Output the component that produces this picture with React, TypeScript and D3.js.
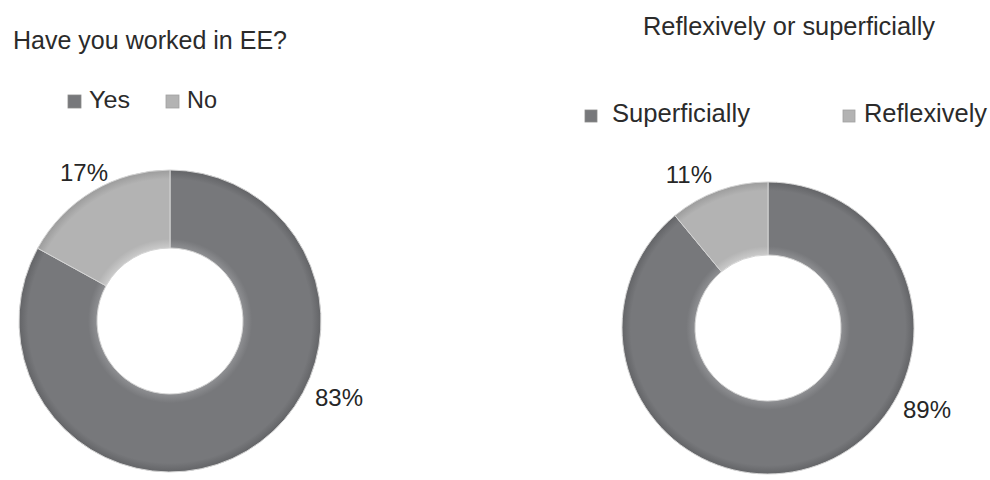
import React from "react";
import * as d3 from "d3";

const leftTitle = "Have you worked in EE?";
const leftCategories = ["Yes", "No"];
const leftValues = [83, 17];

const rightTitle = "Reflexively or superficially";
const rightCategories = ["Superficially", "Reflexively"];
const rightValues = [89, 11];

const W = 990;
const H = 480;
const FONT = "'Liberation Sans', Arial, Helvetica, sans-serif";

const baseColors = ["#77787b", "#b3b3b3"];
const highColors = ["#8e8f92", "#cacaca"];
const edgeColors = ["#636467", "#9c9c9c"];

type DonutProps = {
  id: string;
  cx: number;
  cy: number;
  outer: number;
  inner: number;
  values: number[];
  labelPos: { dx: number; dy: number; anchor: string }[];
  labelSize: number;
};

function Donut({ id, cx, cy, outer, inner, values, labelPos, labelSize }: DonutProps) {
  const pie = d3.pie<number>().sort(null).value((d) => d);
  const arcs = pie(values);
  const arc = d3.arc<d3.PieArcDatum<number>>().innerRadius(inner).outerRadius(outer);
  const total = d3.sum(values);
  const fmt = (v: number) => `${Math.round((v / total) * 100)}%`;
  const f0 = inner / outer;
  return (
    <g>
      <defs>
        {values.map((_, i) => (
          <radialGradient
            key={i}
            id={`${id}-g${i}`}
            gradientUnits="userSpaceOnUse"
            cx={0}
            cy={0}
            r={outer}
          >
            <stop offset={f0} stopColor={highColors[i]} />
            <stop offset={f0 + 0.06} stopColor={baseColors[i]} />
            <stop offset={0.94} stopColor={baseColors[i]} />
            <stop offset={1} stopColor={edgeColors[i]} />
          </radialGradient>
        ))}
      </defs>
      <g transform={`translate(${cx},${cy})`}>
        {arcs.map((a, i) => (
          <path
            key={i}
            d={arc(a) || ""}
            fill={`url(#${id}-g${i})`}
            stroke="#d4d4d4"
            strokeWidth={1}
          />
        ))}
      </g>
      {arcs.map((a, i) => (
        <text
          key={i}
          x={cx + labelPos[i].dx}
          y={cy + labelPos[i].dy}
          textAnchor={labelPos[i].anchor as any}
          fontFamily={FONT}
          fontSize={labelSize}
          fill="#262626"
        >
          {fmt(a.data)}
        </text>
      ))}
    </g>
  );
}

export default function App() {
  return (
    <svg
      width={W}
      height={H}
      viewBox={`0 0 ${W} ${H}`}
      style={{ position: "absolute", left: 0, top: 0, background: "#fff" }}
    >
      <rect width={W} height={H} fill="#ffffff" />

      {/* Left chart */}
      <text x={13} y={49} fontFamily={FONT} fontSize={25} fill="#2b2b2b" textLength={274} lengthAdjust="spacingAndGlyphs">
        {leftTitle}
      </text>
      <rect x={68} y={95} width={13} height={13} fill={baseColors[0]} stroke="#8a8a8a" strokeWidth={0.8} />
      <text x={89} y={108} fontFamily={FONT} fontSize={24} fill="#2b2b2b" textLength={41} lengthAdjust="spacingAndGlyphs">
        {leftCategories[0]}
      </text>
      <rect x={166} y={95} width={13} height={13} fill={baseColors[1]} stroke="#a0a0a0" strokeWidth={0.8} />
      <text x={187} y={108} fontFamily={FONT} fontSize={24} fill="#2b2b2b" textLength={30} lengthAdjust="spacingAndGlyphs">
        {leftCategories[1]}
      </text>
      <Donut
        id="left"
        cx={170}
        cy={321}
        outer={151}
        inner={73}
        values={leftValues}
        labelSize={24}
        labelPos={[
          { dx: 145, dy: 85, anchor: "start" },
          { dx: -62, dy: -140, anchor: "end" },
        ]}
      />

      {/* Right chart */}
      <text x={643} y={35} fontFamily={FONT} fontSize={25} fill="#2b2b2b" textLength={292} lengthAdjust="spacingAndGlyphs">
        {rightTitle}
      </text>
      <rect x={585} y={110} width={12} height={12} fill={baseColors[0]} stroke="#8a8a8a" strokeWidth={0.8} />
      <text x={612} y={122} fontFamily={FONT} fontSize={25} fill="#2b2b2b" textLength={138} lengthAdjust="spacingAndGlyphs">
        {rightCategories[0]}
      </text>
      <rect x={843} y={110} width={12} height={12} fill={baseColors[1]} stroke="#a0a0a0" strokeWidth={0.8} />
      <text x={864} y={122} fontFamily={FONT} fontSize={25} fill="#2b2b2b" textLength={123} lengthAdjust="spacingAndGlyphs">
        {rightCategories[1]}
      </text>
      <Donut
        id="right"
        cx={768}
        cy={328}
        outer={146}
        inner={73}
        values={rightValues}
        labelSize={24}
        labelPos={[
          { dx: 135, dy: 90, anchor: "start" },
          { dx: -56, dy: -145, anchor: "end" },
        ]}
      />
    </svg>
  );
}
